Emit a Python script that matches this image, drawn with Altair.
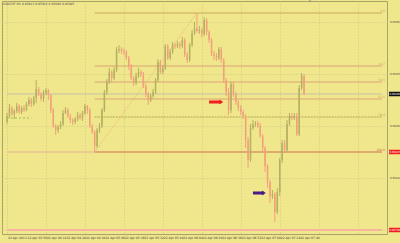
import altair as alt
import pandas as pd

# ---------------- data (USDCHF M1, prices in points = price * 1e5) ----------------
bar_minutes = list(range(0, 246, 2))  # minutes after 22 Apr 03:40

open_pts = [95867, 95873, 95881, 95875, 95878, 95883, 95877, 95881, 95879, 95885,
            95889, 95885, 95891, 95900, 95895, 95890, 95896, 95899, 95894, 95879,
            95863, 95859, 95862, 95865, 95876, 95879, 95873, 95869, 95867, 95870,
            95874, 95871, 95876, 95883, 95879, 95863, 95857, 95843, 95859, 95863,
            95879, 95897, 95907, 95917, 95911, 95919, 95939, 95940, 95938, 95937,
            95931, 95923, 95911, 95906, 95913, 95917, 95915, 95903, 95895, 95889,
            95893, 95897, 95909, 95927, 95917, 95921, 95943, 95931, 95937, 95944,
            95943, 95945, 95943, 95949, 95934, 95929, 95944, 95956, 95961, 95958,
            95959, 95955, 95969, 95957, 95949, 95935, 95933, 95931, 95940, 95929,
            95909, 95897, 95879, 95905, 95895, 95887, 95881, 95877, 95873, 95849,
            95829, 95861, 95865, 95866, 95863, 95853, 95841, 95823, 95807, 95793,
            95795, 95777, 95797, 95829, 95846, 95839, 95865, 95873, 95871, 95873,
            95855, 95901, 95913]
close_pts = [95873, 95881, 95875, 95878, 95883, 95877, 95881, 95879, 95885, 95889,
             95885, 95891, 95900, 95895, 95890, 95896, 95899, 95894, 95879, 95863,
             95859, 95862, 95865, 95876, 95879, 95873, 95869, 95867, 95870, 95874,
             95871, 95876, 95883, 95879, 95863, 95857, 95843, 95859, 95863, 95879,
             95897, 95907, 95917, 95911, 95919, 95939, 95940, 95938, 95937, 95931,
             95923, 95911, 95906, 95913, 95917, 95915, 95903, 95895, 95889, 95893,
             95897, 95909, 95927, 95917, 95921, 95943, 95931, 95937, 95944, 95943,
             95945, 95943, 95949, 95934, 95929, 95944, 95956, 95961, 95958, 95959,
             95955, 95969, 95957, 95949, 95935, 95933, 95931, 95940, 95929, 95909,
             95897, 95879, 95905, 95895, 95887, 95881, 95877, 95873, 95849, 95829,
             95861, 95865, 95866, 95863, 95853, 95841, 95823, 95807, 95793, 95795,
             95777, 95797, 95829, 95846, 95839, 95865, 95873, 95871, 95873, 95855,
             95901, 95913, 95895]
high_pts = [95876, 95885, 95883, 95880, 95886, 95885, 95883, 95884, 95887, 95892,
            95891, 95893, 95909, 95902, 95897, 95899, 95901, 95900, 95895, 95881,
            95865, 95864, 95868, 95879, 95882, 95881, 95875, 95871, 95872, 95877,
            95876, 95878, 95885, 95884, 95881, 95865, 95859, 95861, 95866, 95881,
            95899, 95910, 95921, 95919, 95922, 95942, 95944, 95942, 95941, 95939,
            95933, 95925, 95913, 95916, 95921, 95919, 95917, 95905, 95897, 95895,
            95900, 95911, 95930, 95929, 95924, 95945, 95945, 95940, 95947, 95946,
            95948, 95947, 95952, 95951, 95937, 95946, 95959, 95967, 95976, 95963,
            95961, 95972, 95971, 95959, 95951, 95938, 95936, 95942, 95942, 95931,
            95911, 95901, 95907, 95907, 95897, 95889, 95884, 95879, 95875, 95852,
            95865, 95869, 95868, 95868, 95866, 95855, 95843, 95825, 95809, 95799,
            95797, 95801, 95831, 95849, 95849, 95869, 95876, 95876, 95876, 95876,
            95904, 95916, 95915]
low_pts = [95865, 95871, 95873, 95870, 95876, 95875, 95875, 95877, 95878, 95883,
           95882, 95883, 95886, 95893, 95888, 95887, 95894, 95889, 95876, 95861,
           95854, 95856, 95860, 95863, 95875, 95871, 95866, 95864, 95865, 95868,
           95869, 95868, 95874, 95875, 95861, 95855, 95837, 95841, 95856, 95861,
           95877, 95894, 95905, 95907, 95909, 95917, 95936, 95935, 95934, 95929,
           95919, 95909, 95903, 95904, 95911, 95912, 95901, 95892, 95884, 95887,
           95891, 95895, 95907, 95915, 95915, 95919, 95929, 95929, 95935, 95940,
           95941, 95940, 95941, 95932, 95926, 95927, 95942, 95954, 95956, 95955,
           95952, 95953, 95954, 95946, 95933, 95929, 95928, 95929, 95926, 95906,
           95893, 95874, 95876, 95892, 95884, 95878, 95874, 95870, 95841, 95821,
           95827, 95859, 95862, 95861, 95851, 95837, 95817, 95801, 95786, 95790,
           95767, 95775, 95793, 95826, 95836, 95837, 95863, 95869, 95869, 95853,
           95853, 95899, 95894]

price_ticks = [0.95980, 0.95967, 0.95954, 0.95941, 0.95928, 0.95915, 0.95902, 0.95889,
               0.95876, 0.95863, 0.95850, 0.95837, 0.95824, 0.95811, 0.95798, 0.95785,
               0.95772, 0.95759]
date_minutes = list(range(0, 256, 16))
date_labels = ["22 Apr 2013", "22 Apr 03:56", "22 Apr 04:12", "22 Apr 04:28", "22 Apr 04:44",
               "22 Apr 05:00", "22 Apr 05:16", "22 Apr 05:32", "22 Apr 05:48", "22 Apr 06:04",
               "22 Apr 06:20", "22 Apr 06:36", "22 Apr 06:52", "22 Apr 07:08", "22 Apr 07:24",
               "22 Apr 07:40"]

fib_names = ["0.0", "38.2", "50.0", "61.8", "76.4", "100.0"]
fib_prices = [0.95976, 0.95923, 0.95907, 0.95890, 0.95872, 0.95837]
fib_colors = ["#C9AA62", "#D9A476", "#D9A476", "#D9A476", "#B2A453", "#C8704E"]
fib_dash = ["solid", "solid", "solid", "solid", "dash", "solid"]
fib_from_minute = 72    # swing low
fib_to_minute = 156     # swing high
last_minute = 308

bid_price = 0.95895
alert_price = 0.95759

title_text = "USDCHF,M1  0.95913 0.95915 0.95894 0.95895"

# ---------------- frames ----------------
bars = pd.DataFrame({
    "m": bar_minutes,
    "open": [v / 1e5 for v in open_pts],
    "close": [v / 1e5 for v in close_pts],
    "high": [v / 1e5 for v in high_pts],
    "low": [v / 1e5 for v in low_pts],
})
bars["dir"] = ["up" if c >= o else "down" for o, c in zip(bars["open"], bars["close"])]

fib = pd.DataFrame({"name": fib_names, "price": fib_prices, "color": fib_colors,
                    "dash": fib_dash, "x0": fib_from_minute, "x1": last_minute})

X = alt.Scale(domain=[0, last_minute], nice=False, zero=False)
Y = alt.Scale(domain=[0.95755, 0.95988], nice=False, zero=False)

FONT = "DejaVu Sans"
TXT = "#3c3c3c"

x_axis = alt.Axis(values=list(range(0, last_minute, 8)), labels=False,
                  ticks=False, domain=False, grid=True,
                  gridColor="#CFC68A", gridDash=[1, 2], gridWidth=1, title=None)
y_axis = alt.Axis(orient="right", values=price_ticks, format=".5f", labelFontSize=2.6,
                  labelFont=FONT, labelColor=TXT, labelPadding=2.5, ticks=False,
                  domain=False, grid=True, gridColor="#CFC68A", gridDash=[1, 2],
                  title=None, labelOverlap=False, labelBound=False, labelFlush=False)

base = alt.Chart(bars)

wicks = base.mark_rule(strokeWidth=1).encode(
    x=alt.X("m:Q", scale=X, axis=x_axis),
    y=alt.Y("low:Q", scale=Y, axis=y_axis),
    y2="high:Q",
    color=alt.Color("dir:N", scale=alt.Scale(domain=["up", "down"],
                                             range=["#B3B062", "#F2A07C"]), legend=None),
)
bodies = base.mark_bar(size=1.5).encode(
    x=alt.X("m:Q", scale=X),
    y=alt.Y("open:Q", scale=Y),
    y2="close:Q",
    color=alt.Color("dir:N", scale=alt.Scale(domain=["up", "down"],
                                             range=["#3F7A26", "#E8333A"]), legend=None),
)

# bid line, alert line, left parts of levels
hl = pd.DataFrame({"price": [bid_price, alert_price, 0.95837, 0.95871],
                   "x0": [0, 0, 0, 0], "x1": [last_minute, last_minute, fib_from_minute, 20],
                   "color": ["#C4C0A8", "#F6B49C", "#E6B494", "#9CC060"],
                   "w": [1, 2, 1, 1], "dash": ["solid", "solid", "solid", "dash"]})
hlines_solid = alt.Chart(hl[hl["dash"] == "solid"]).mark_rule().encode(
    x=alt.X("x0:Q", scale=X), x2="x1:Q", y=alt.Y("price:Q", scale=Y),
    color=alt.Color("color:N", scale=None),
    strokeWidth=alt.StrokeWidth("w:Q", scale=None))
hlines_dash = alt.Chart(hl[hl["dash"] == "dash"]).mark_rule(strokeDash=[2, 2]).encode(
    x=alt.X("x0:Q", scale=X), x2="x1:Q", y=alt.Y("price:Q", scale=Y),
    color=alt.Color("color:N", scale=None))

fib_solid = alt.Chart(fib[fib["dash"] == "solid"]).mark_rule(strokeWidth=1).encode(
    x=alt.X("x0:Q", scale=X), x2="x1:Q", y=alt.Y("price:Q", scale=Y),
    color=alt.Color("color:N", scale=None))
fib_dashed = alt.Chart(fib[fib["dash"] == "dash"]).mark_rule(strokeWidth=1, strokeDash=[2, 1]).encode(
    x=alt.X("x0:Q", scale=X), x2="x1:Q", y=alt.Y("price:Q", scale=Y),
    color=alt.Color("color:N", scale=None))
fib_text = alt.Chart(fib).mark_text(align="right", baseline="bottom", fontSize=3, font=FONT,
                                    dy=-0.5).encode(
    x=alt.value(383), y=alt.Y("price:Q", scale=Y), text="name:N",
    color=alt.Color("color:N", scale=None))

diag = pd.DataFrame({"m": [fib_from_minute, fib_to_minute], "price": [fib_prices[-1], fib_prices[0]]})
diag_line = alt.Chart(diag).mark_line(strokeDash=[1, 1.5], strokeWidth=1, color="#F0A880").encode(
    x=alt.X("m:Q", scale=X), y=alt.Y("price:Q", scale=Y))

# arrows
arrows = pd.DataFrame({"m0": [166, 202], "m1": [176, 211], "price": [0.95887, 0.95796],
                       "color": ["#F01E1E", "#4A1A8A"]})
arrow_shaft = alt.Chart(arrows).mark_rule(strokeWidth=3).encode(
    x=alt.X("m0:Q", scale=X), x2="m1:Q", y=alt.Y("price:Q", scale=Y),
    color=alt.Color("color:N", scale=None))
arrow_head = alt.Chart(arrows).mark_point(shape="triangle-right", filled=True, size=22, opacity=1).encode(
    x=alt.X("m1:Q", scale=X), y=alt.Y("price:Q", scale=Y),
    color=alt.Color("color:N", scale=None))

# highlighted price labels on the right scale
boxes = pd.DataFrame({"price": [bid_price, fib_prices[-1], alert_price],
                      "bg": ["#111111", "#F02020", "#F02020"]})
box_rule = alt.Chart(boxes).mark_rule(strokeWidth=4.5).encode(
    x=alt.value(387), x2=alt.value(402), y=alt.Y("price:Q", scale=Y),
    color=alt.Color("bg:N", scale=None))
box_text = alt.Chart(boxes).mark_text(align="left", baseline="middle", fontSize=2.6, font=FONT,
                                      color="#ffffff").encode(
    x=alt.value(387.5), y=alt.Y("price:Q", scale=Y), text=alt.Text("price:Q", format=".5f"))

# date labels along the bottom
dates = pd.DataFrame({"m": date_minutes, "label": date_labels})
date_text = alt.Chart(dates).mark_text(align="left", baseline="middle", fontSize=3, font=FONT,
                                       color=TXT, dx=1).encode(
    x=alt.X("m:Q", scale=X), y=alt.value(237), text="label:N")

title = alt.Chart(pd.DataFrame({"t": [title_text]})).mark_text(
    align="left", baseline="top", fontSize=3, font=FONT, color="#4a4a4a").encode(
    x=alt.value(1), y=alt.value(1.5), text="t:N")

shift_marker = alt.Chart(pd.DataFrame({"s": ["shift"]})).mark_point(
    shape="triangle-down", filled=True, size=6, color="#8a8a80", opacity=1).encode(
    x=alt.value(308), y=alt.value(0.5))

chart = alt.layer(
    hlines_solid, hlines_dash, fib_solid, fib_dashed, diag_line, fib_text,
    wicks, bodies, arrow_shaft, arrow_head, box_rule, box_text, date_text, title, shift_marker
).properties(
    width=385, height=233,
    background="#F0E68C",
    padding={"left": 2, "top": 1, "right": 13, "bottom": 9},
    autosize=alt.AutoSizeParams(type="none"),
).configure_view(stroke="#A9A26A", strokeWidth=1)

chart.save("out.html", embed_options={"renderer": "svg", "actions": False})
